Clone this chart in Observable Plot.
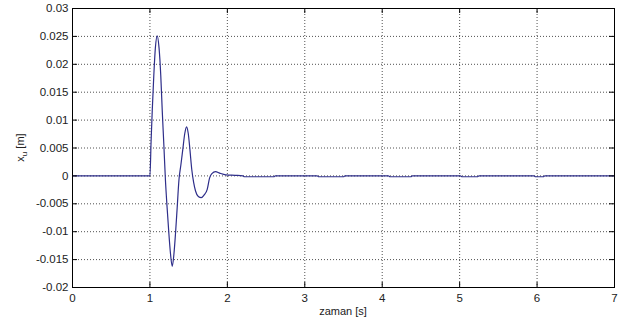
<!DOCTYPE html>
<html><head><meta charset="utf-8">
<script src="https://cdn.jsdelivr.net/npm/d3@7"></script>
<script src="https://cdn.jsdelivr.net/npm/@observablehq/plot@0.6"></script>
<style>
html,body{margin:0;padding:0;background:#fff;}
#chart{width:631px;height:324px;}
svg{display:block;}
</style></head><body><div id="chart"></div>
<script>
// time [s]
const time = [0, 1.0, 1.015, 1.03, 1.05, 1.07, 1.094, 1.118, 1.14, 1.159, 1.18, 1.20, 1.222, 1.244, 1.266, 1.288, 1.31, 1.331, 1.352, 1.375, 1.40, 1.425, 1.45, 1.473, 1.495, 1.516, 1.54, 1.565, 1.589, 1.625, 1.663, 1.70, 1.74, 1.77, 1.80, 1.848, 1.90, 1.98, 2.1, 2.2, 2.22, 2.6, 2.62, 3.16, 3.18, 3.50, 3.52, 4.08, 4.10, 4.37, 4.39, 5.01, 5.03, 5.23, 5.25, 5.96, 5.98, 6.08, 6.10, 7.0];
// displacement x_u [m]
const displacement = [0, 0, 0.0062, 0.0117, 0.0180, 0.0229, 0.0251, 0.0229, 0.0180, 0.0117, 0.0055, -0.0007, -0.0057, -0.0102, -0.0140, -0.0162, -0.0140, -0.0102, -0.0057, -0.0007, 0.0020, 0.0048, 0.0076, 0.0088, 0.0076, 0.0048, 0.0012, -0.0012, -0.0027, -0.0037, -0.0039, -0.0034, -0.0024, -0.0004, 0.0004, 0.00075, 0.0005, 0.0002, 0.0001, 0, -0.00015, -0.00015, 0, 0, -0.00015, -0.00015, 0, 0, -0.00015, -0.00015, 0, 0, -0.00015, -0.00015, 0, 0, -0.00015, -0.00015, 0, 0];
const xTicks = [0, 1, 2, 3, 4, 5, 6, 7];
const yTicks = [-0.02, -0.015, -0.01, -0.005, 0, 0.005, 0.01, 0.015, 0.02, 0.025, 0.03];
const xLabel = "zaman [s]";
const yLabelMain = "x", yLabelSub = "u", yLabelUnit = " [m]";

const data = time.map((t, i) => ({t, v: displacement[i]}));
const fmt = d => String(+(+d).toFixed(3));
const W = 631, H = 324, mL = 72, mR = 17, mT = 8, mB = 37;
const pw = W - mL - mR, ph = H - mT - mB, tk = 5;

const chart = Plot.plot({
  width: W, height: H,
  marginLeft: mL, marginRight: mR, marginTop: mT, marginBottom: mB,
  style: {fontFamily: "'Liberation Sans', Arial, sans-serif", fontSize: "11.5px", color: "#222", background: "#fff", overflow: "visible"},
  x: {domain: [0, 7]},
  y: {domain: [-0.02, 0.03]},
  marks: [
    Plot.gridX(xTicks, {stroke: "#333", strokeOpacity: 0.85, strokeDasharray: "1,2"}),
    Plot.gridY(yTicks, {stroke: "#333", strokeOpacity: 0.85, strokeDasharray: "1,2"}),
    Plot.line(data, {x: "t", y: "v", stroke: "#2e2e8a", strokeWidth: 1.2, curve: "monotone-x"}),
    Plot.frame({stroke: "#000"}),
    Plot.tickX(xTicks, {x: d => d, insetTop: ph - tk, stroke: "#000"}),
    Plot.tickX(xTicks, {x: d => d, insetBottom: ph - tk, stroke: "#000"}),
    Plot.tickY(yTicks, {y: d => d, insetRight: pw - tk, stroke: "#000"}),
    Plot.tickY(yTicks, {y: d => d, insetLeft: pw - tk, stroke: "#000"}),
    Plot.axisX(xTicks, {anchor: "bottom", tickSize: 0, tickPadding: 6, tickFormat: fmt, label: null}),
    Plot.axisY(yTicks, {anchor: "left", tickSize: 0, tickPadding: 4, tickFormat: fmt, label: null})
  ]
});
document.getElementById("chart").appendChild(chart);

const svg = d3.select(chart);
svg.append("text")
  .attr("x", mL + pw / 2).attr("y", 315)
  .attr("text-anchor", "middle")
  .attr("fill", "#222")
  .style("font-size", "11px")
  .text(xLabel);
const yl = svg.append("text")
  .attr("transform", `translate(24,${mT + ph / 2}) rotate(-90)`)
  .attr("text-anchor", "middle")
  .attr("fill", "#222")
  .style("font-size", "11px");
yl.append("tspan").text(yLabelMain);
yl.append("tspan").attr("dy", 3).style("font-size", "8px").text(yLabelSub);
yl.append("tspan").attr("dy", -3).text(yLabelUnit);
</script></body></html>
